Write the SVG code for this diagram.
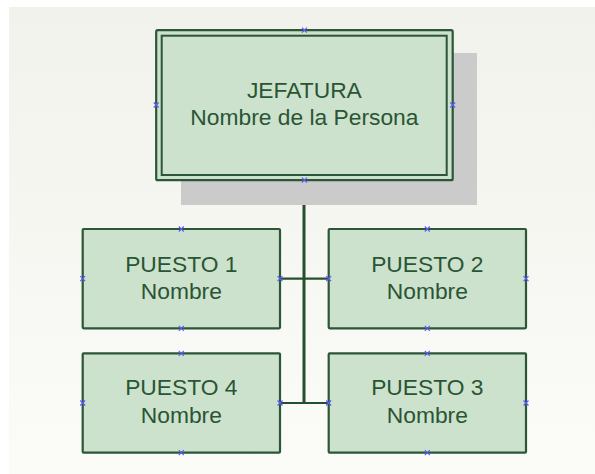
<svg xmlns="http://www.w3.org/2000/svg" width="595" height="474" viewBox="0 0 595 474">
<defs>
<linearGradient id="bg" x1="0" y1="0" x2="0" y2="1">
<stop offset="0" stop-color="#f2f2ec"/>
<stop offset="1" stop-color="#fbfbf8"/>
</linearGradient>
<path id="xm" d="M-2.5,-2.5 L2.5,2.5 M-2.5,2.5 L2.5,-2.5"/>
</defs>
<style>
.box{fill:#cde2cc;stroke:#2b5638;stroke-width:2.2}
.inner{fill:none;stroke:#2b5638;stroke-width:2}
.lbl{font-family:"Liberation Sans",Arial,sans-serif;font-size:22.8px;fill:#2a5535;text-anchor:middle}
.cn{fill:none;stroke:#24502f}
.mk{stroke:#5a5aff;stroke-width:1.1;fill:none}
</style>
<rect x="9" y="7" width="586" height="467" fill="url(#bg)"/>
<g id="connectors">
<line class="cn" x1="304" y1="180" x2="304" y2="403" stroke-width="3"/>
<line class="cn" x1="280" y1="278.7" x2="328.7" y2="278.7" stroke-width="2.2"/>
<line class="cn" x1="280" y1="403" x2="328.7" y2="403" stroke-width="2.2"/>
</g>
<g id="jefatura">
<rect x="181" y="53" width="296" height="152" fill="#cbcbcb"/>
<rect class="box" x="156.2" y="30.2" width="296.5" height="150" rx="1.5" stroke-width="2.6"/>
<rect class="inner" x="161.7" y="35.7" width="285" height="139.3"/>
<text class="lbl" x="304.4" y="97.7">JEFATURA</text>
<text class="lbl" x="304.4" y="125">Nombre de la Persona</text>
<g class="mk">
<use href="#xm" x="304.4" y="30.2"/><use href="#xm" x="156.2" y="105"/><use href="#xm" x="452.7" y="105"/><use href="#xm" x="304.4" y="180.2"/>
</g>
</g>
<g id="puesto1">
<rect class="box" x="82.7" y="229" width="197.3" height="99.3" rx="1"/>
<text class="lbl" x="181.3" y="271.7">PUESTO 1</text>
<text class="lbl" x="181.3" y="299">Nombre</text>
<g class="mk"><use href="#xm" x="181.3" y="229"/><use href="#xm" x="82.7" y="278.7"/><use href="#xm" x="280" y="278.7"/><use href="#xm" x="181.3" y="328.3"/></g>
</g>
<g id="puesto2">
<rect class="box" x="328.7" y="229" width="197.3" height="99.3" rx="1"/>
<text class="lbl" x="427.3" y="271.7">PUESTO 2</text>
<text class="lbl" x="427.3" y="299">Nombre</text>
<g class="mk"><use href="#xm" x="427.3" y="229"/><use href="#xm" x="328.7" y="278.7"/><use href="#xm" x="526" y="278.7"/><use href="#xm" x="427.3" y="328.3"/></g>
</g>
<g id="puesto4">
<rect class="box" x="82.7" y="353.3" width="197.3" height="99.4" rx="1"/>
<text class="lbl" x="181.3" y="395">PUESTO 4</text>
<text class="lbl" x="181.3" y="422.7">Nombre</text>
<g class="mk"><use href="#xm" x="181.3" y="353.3"/><use href="#xm" x="82.7" y="403"/><use href="#xm" x="280" y="403"/><use href="#xm" x="181.3" y="452.7"/></g>
</g>
<g id="puesto3">
<rect class="box" x="328.7" y="353.3" width="197.3" height="99.4" rx="1"/>
<text class="lbl" x="427.3" y="395">PUESTO 3</text>
<text class="lbl" x="427.3" y="422.7">Nombre</text>
<g class="mk"><use href="#xm" x="427.3" y="353.3"/><use href="#xm" x="328.7" y="403"/><use href="#xm" x="526" y="403"/><use href="#xm" x="427.3" y="452.7"/></g>
</g>
</svg>
